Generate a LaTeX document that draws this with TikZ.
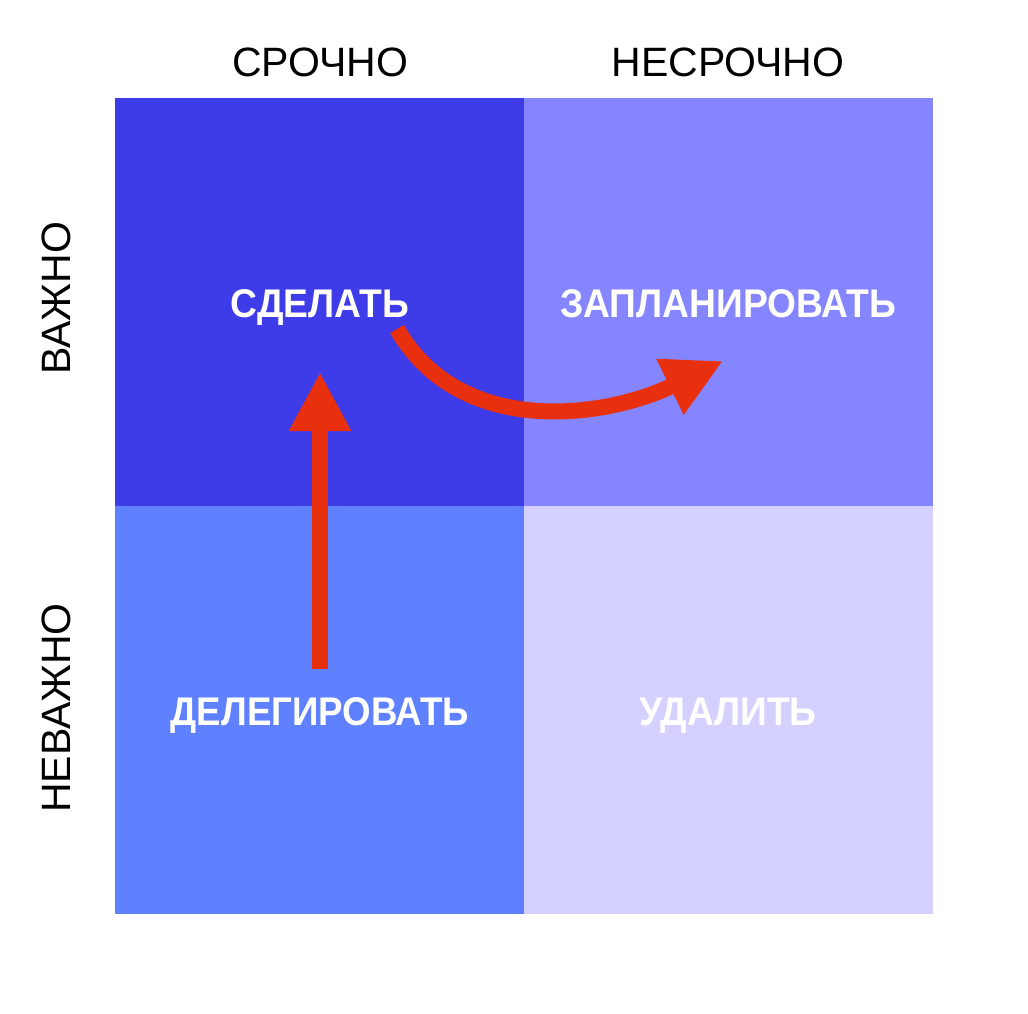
\documentclass[tikz,border=0pt]{standalone}
\usepackage{fontspec}
\setmainfont{Liberation Sans}
\usetikzlibrary{arrows.meta}
\definecolor{qtl}{HTML}{3E3BE8}
\definecolor{qtr}{HTML}{8585FF}
\definecolor{qbl}{HTML}{5F80FF}
\definecolor{qbr}{HTML}{D4D0FF}
\definecolor{redarrow}{HTML}{E8300E}
\tikzset{
  quad/.style={draw=none,minimum width=409pt,minimum height=408pt,inner sep=0pt,outer sep=0pt},
  axislabel/.style={font=\fontsize{41}{41}\selectfont,text=black,inner sep=0pt},
  quadlabel/.style={font=\fontsize{40}{40}\selectfont\bfseries,text=white,inner sep=0pt,anchor=base,xscale=0.93},
  bigarrow/.style={draw=redarrow,line width=16pt,-{Triangle[length=59pt,width=58pt]}}
}
\begin{document}
\begin{tikzpicture}[x=1pt,y=-1pt]
\useasboundingbox[fill=white] (0,0) rectangle (1028,1014);
\node[quad,fill=qtl] (tl) at (319.5,302) {};
\node[quad,fill=qtr] (tr) at (728,302) {};
\node[quad,fill=qbl] (bl) at (319.5,710) {};
\node[quad,fill=qbr] (br) at (728,710) {};
\node[axislabel] (urgent) at (320,62) {СРОЧНО};
\node[axislabel] (noturgent) at (728,62) {НЕСРОЧНО};
\node[axislabel,rotate=90] (important) at (56,298) {ВАЖНО};
\node[axislabel,rotate=90] (notimportant) at (56,708) {НЕВАЖНО};
\node[quadlabel] (do) at (320,317) {СДЕЛАТЬ};
\node[quadlabel] (plan) at (728,317) {ЗАПЛАНИРОВАТЬ};
\node[quadlabel,xscale=0.985] (delegate) at (320,725) {ДЕЛЕГИРОВАТЬ};
\node[quadlabel] (delete) at (728,725) {УДАЛИТЬ};
\coordinate (upstart) at (320,669);
\coordinate (upend) at (320,372);
\coordinate (curvestart) at (397,329);
\coordinate (curveend) at (723,361);
\draw[bigarrow] (upstart) -- (upend);
\draw[bigarrow] (curvestart) to[out=-60,in=206] (curveend);
\end{tikzpicture}
\end{document}
